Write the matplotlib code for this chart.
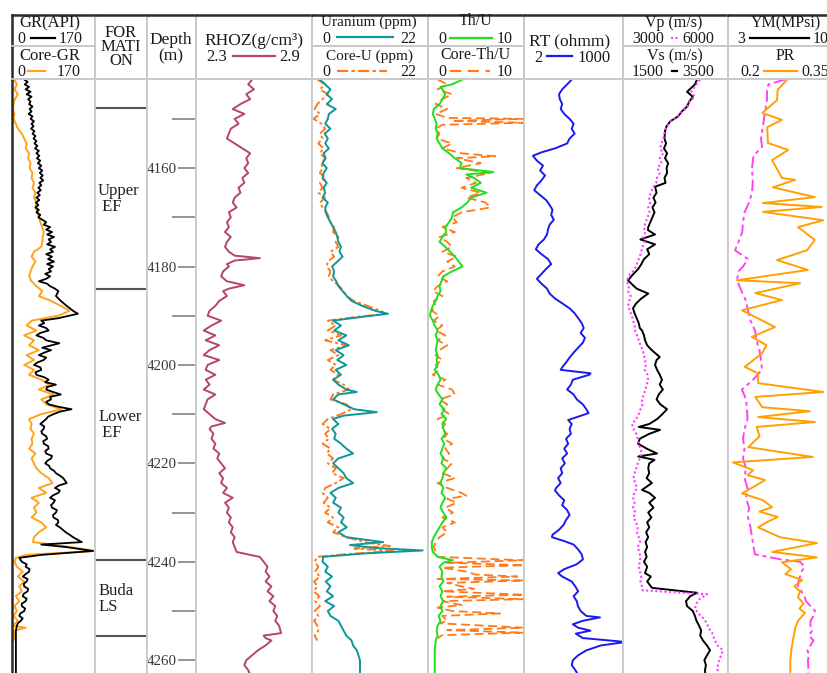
import matplotlib
matplotlib.use("Agg")
import matplotlib.pyplot as plt
from matplotlib.lines import Line2D
import numpy as np

plt.rcParams['font.family'] = ['Liberation Serif', 'DejaVu Serif']

# ---------------- data ----------------
depth_top, depth_bottom = 4141.9, 4262.6
depth_ticks_major = [4160, 4180, 4200, 4220, 4240, 4260]
depth_ticks_minor = [4150, 4170, 4190, 4210, 4230, 4250]

formation_names = ["Upper\n EF", "Lower\n EF", "Buda\nLS"]
formation_label_depths = [4166.3, 4212.2, 4247.6]
formation_boundaries = [4147.8, 4184.6, 4239.7, 4255.0]

GR = [(4142,25),(4142.5,32),(4143,26),(4143.5,35),(4144,28),(4144.5,38),(4145,30),(4145.5,40),(4146,33),
      (4146.5,38),(4147,35),(4147.5,42),(4148,36),(4148.5,40),(4149,34),(4149.5,42),(4150,38),(4150.5,45),
      (4151,40),(4151.5,44),(4152,39),(4152.5,46),(4153,42),(4153.5,48),(4154,44),(4154.5,50),(4155,46),
      (4155.5,52),(4156,47),(4156.5,55),(4157,50),(4157.5,56),(4158,51),(4158.5,58),(4159,53),(4159.5,60),
      (4160,55),(4160.5,62),(4161,57),(4161.5,63),(4162,58),(4162.5,64),(4163,56),(4163.5,60),(4164,54),
      (4164.5,59),(4165,52),(4165.5,57),(4166,50),(4166.5,56),(4167,49),(4167.5,54),(4168,48),(4168.5,55),
      (4169,50),(4169.5,58),(4170,54),(4170.5,62),(4171,70),(4171.5,65),(4172,78),(4172.5,70),(4173,82),
      (4173.5,72),(4174,86),(4174.5,75),(4175,80),(4175.5,72),(4176,88),(4176.5,78),(4177,84),(4177.5,70),
      (4178,82),(4178.5,74),(4179,86),(4179.5,72),(4180,84),(4180.5,75),(4181,80),(4181.5,68),(4182,78),
      (4182.5,70),(4183,55),(4183.5,72),(4184,78),(4184.5,88),(4185,95),(4186,90),(4187,100),(4188,112),
      (4189,125),(4189.6,135),(4190.5,95),(4191,60),(4191.5,66),(4192,55),(4192.5,70),(4193,75),(4193.5,58),
      (4194,50),(4194.5,64),(4195,70),(4195.6,97),(4196.5,62),(4197,80),(4197.5,66),(4198,55),(4198.5,70),
      (4199,65),(4199.5,52),(4200,45),(4200.5,58),(4201,60),(4201.5,48),(4202,50),(4202.5,66),(4203,75),
      (4203.5,68),(4204,90),(4204.5,72),(4205,70),(4205.5,84),(4206,100),(4206.5,78),(4207,80),(4207.5,70),
      (4208,75),(4208.5,95),(4209,122),(4209.5,98),(4210,85),(4210.5,74),(4211,70),(4212,58),(4212.5,66),
      (4213,65),(4213.5,60),(4214,62),(4214.5,70),(4215,72),(4215.5,64),(4216,65),(4216.5,74),(4217,75),
      (4217.5,68),(4218,70),(4218.5,82),(4219,80),(4219.5,72),(4220,68),(4220.5,76),(4221,78),(4221.5,86),
      (4222,90),(4222.5,98),(4223,105),(4224,112),(4224.5,96),(4225,88),(4225.5,98),(4226,95),(4226.5,84),
      (4227,78),(4227.5,88),(4228,85),(4228.5,80),(4229,82),(4229.5,92),(4230,90),(4230.5,84),(4231,85),
      (4231.5,94),(4232,95),(4232.5,90),(4233,98),(4233.5,104),(4234,110),(4234.5,118),(4235,125),(4236,143),
      (4236.5,60),(4237,110),(4237.8,166),(4238.6,60),(4239.2,15),(4240,20),(4240.5,30),(4241,28),(4241.5,36),
      (4242,35),(4242.5,28),(4243,22),(4243.5,32),(4244,30),(4244.5,24),(4245,25),(4245.5,33),(4246,32),
      (4246.5,24),(4247,22),(4247.5,30),(4248,28),(4248.5,20),(4249,20),(4249.5,27),(4250,25),(4250.5,17),
      (4251,15),(4251.5,22),(4252,18),(4252.5,12),(4253,10),(4254,8),(4256,8),(4263,8)]

CORE_GR = [(4142,4),(4143,10),(4144,5),(4145,12),(4146,6),(4147,3),(4148,2),(4149,5),(4150,3),(4151,8),
           (4152,12),(4153,20),(4154,25),(4155,30),(4156,28),(4157,35),(4158,33),(4159,38),(4160,36),(4161,42),
           (4162,40),(4163,45),(4164,42),(4165,48),(4166,45),(4167,50),(4168,48),(4169,52),(4170,55),(4171,58),
           (4172,62),(4173,65),(4174,63),(4175,62),(4176,60),(4177,45),(4178,40),(4179,48),(4180,42),(4181,38),
           (4182,35),(4183,40),(4184,50),(4185,62),(4186,55),(4187,80),(4188,100),(4189,118),(4190,95),(4191,40),
           (4192,30),(4193,50),(4194,25),(4195,45),(4196,35),(4197,55),(4198,30),(4199,45),(4200,25),(4201,45),
           (4202,35),(4203,60),(4204,77),(4205,55),(4206,85),(4207,60),(4208,70),(4209,101),(4210,60),(4211,35),
           (4212,40),(4213,38),(4214,45),(4215,40),(4216,42),(4217,35),(4218,48),(4219,40),(4220,45),(4221,50),
           (4222,60),(4223,75),(4224,83),(4225,55),(4226,70),(4227,40),(4228,55),(4229,45),(4230,50),(4231,40),
           (4232,60),(4233,70),(4234,55),(4235,45),(4236,43),(4237,120),(4237.8,170),(4238.6,30),(4239.2,8),(4240,5),
           (4241,10),(4242,22),(4243,12),(4244,25),(4245,15),(4246,20),(4247,8),(4248,15),(4249,5),(4250,10),
           (4251,3),(4252,12),(4253,2),(4253.4,28),(4254,5),(4255,5),(4256,3)]

RHOZ = [(4142,2.59),(4143,2.57),(4144,2.60),(4145,2.56),(4146,2.58),(4147,2.53),(4148,2.49),(4149,2.55),(4150,2.50),
        (4151,2.52),(4152,2.48),(4153,2.47),(4154,2.46),(4155,2.50),(4156,2.54),(4157,2.58),(4158,2.56),(4159,2.57),
        (4160,2.55),(4161,2.57),(4162,2.54),(4163,2.55),(4164,2.52),(4165,2.53),(4166,2.50),(4167,2.49),(4168,2.51),
        (4169,2.47),(4170,2.48),(4171,2.46),(4172,2.47),(4173,2.45),(4174,2.48),(4175,2.46),(4176,2.45),(4177,2.47),
        (4177.8,2.50),(4178.3,2.63),(4178.8,2.50),(4179.5,2.46),(4180,2.47),(4181,2.44),(4182,2.43),(4183,2.46),
        (4183.8,2.55),(4184.5,2.47),(4185,2.44),(4186,2.46),(4187,2.42),(4188,2.40),(4189,2.37),(4190,2.36),(4191,2.43),
        (4192,2.38),(4193,2.34),(4194,2.40),(4195,2.35),(4196,2.42),(4197,2.37),(4198,2.34),(4199,2.42),(4200,2.36),
        (4201,2.35),(4202,2.40),(4203,2.35),(4204,2.37),(4205,2.34),(4206,2.40),(4207,2.36),(4208,2.35),(4209,2.34),
        (4210,2.37),(4211,2.40),(4211.8,2.45),(4212.5,2.38),(4213,2.37),(4214,2.39),(4215,2.38),(4216,2.40),(4217,2.39),
        (4218,2.42),(4219,2.41),(4220,2.43),(4221,2.45),(4222,2.42),(4223,2.44),(4224,2.43),(4225,2.46),(4226,2.44),
        (4227,2.49),(4228,2.45),(4229,2.47),(4230,2.46),(4231,2.48),(4232,2.47),(4233,2.49),(4234,2.48),(4235,2.50),
        (4236,2.49),(4237,2.50),(4238,2.51),(4238.6,2.58),(4239,2.63),(4240,2.65),(4241,2.67),(4242,2.66),(4243,2.68),
        (4244,2.66),(4245,2.69),(4246,2.67),(4247,2.70),(4248,2.68),(4249,2.71),(4250,2.70),(4251,2.72),(4252,2.71),
        (4253,2.73),(4254.5,2.74),(4255,2.65),(4255.5,2.66),(4256,2.69),(4257,2.66),(4258,2.62),(4259,2.59),
        (4260,2.56),(4261,2.55),(4262,2.57),(4263,2.58)]

URANIUM = [(4142,1.5),(4143,2.5),(4144,3.5),(4145,2.8),(4146,3.8),(4147,2.8),(4148,4.5),(4149,3.2),(4150,3.0),
           (4151,2.5),(4152,3.5),(4153,2.4),(4154,3.0),(4155,2.5),(4156,3.2),(4157,2.2),(4158,2.6),(4159,2.0),
           (4160,2.8),(4161,2.2),(4162,2.0),(4163,2.8),(4164,2.2),(4165,2.5),(4166,2.0),(4167,3.0),(4168,2.5),
           (4169,2.6),(4170,3.0),(4171,3.5),(4172,4.0),(4173,4.5),(4174,4.8),(4175,5.0),(4176,5.5),(4177,5.2),
           (4178,5.8),(4179,4.8),(4180,3.8),(4181,4.2),(4182,4.0),(4183,4.6),(4184,5.0),(4185,5.8),(4186,6.6),
           (4187,7.5),(4188,9.5),(4189,12.0),(4189.6,14.4),(4190.3,9.0),(4191,4.0),(4192,5.5),(4193,4.2),(4194,6.5),
           (4195,5.0),(4196,7.0),(4197,4.5),(4198,6.0),(4199,4.8),(4200,6.5),(4201,4.5),(4202,5.5),(4203,4.0),
           (4204,5.0),(4205,6.5),(4205.5,8.5),(4206,5.0),(4207,4.0),(4208,6.0),(4209,8.0),(4209.6,12.3),(4210.3,6.0),
           (4211,4.0),(4212,5.0),(4213,3.8),(4214,4.5),(4215,4.2),(4216,5.5),(4217,6.5),(4218,7.8),(4219,5.0),
           (4220,4.0),(4221,5.0),(4222,6.0),(4223,6.5),(4224,7.8),(4225,5.0),(4226,3.5),(4227,4.5),(4228,4.0),
           (4229,5.5),(4230,5.0),(4231,6.0),(4232,5.5),(4233,6.6),(4234,5.0),(4235,6.5),(4236,13.5),(4236.6,7.2),
           (4237.2,12.0),(4237.7,21.0),(4238.3,10.0),(4239,2.1),(4240,2.0),(4241,3.0),(4242,2.5),(4243,3.8),
           (4244,2.6),(4245,3.5),(4246,2.8),(4247,4.0),(4248,2.5),(4249,4.2),(4250,3.0),(4251,3.5),(4252,5.0),
           (4253,5.5),(4254,6.0),(4255,6.5),(4256,7.5),(4257,7.8),(4258,8.5),(4259,8.8),(4260,9.1),(4263,9.1)]

CORE_U = [(4142,1.0),(4143,2.5),(4144,1.5),(4145,3.0),(4146,2.0),(4147,1.0),(4148,0.5),(4149,1.5),(4150,0.3),
          (4151,1.8),(4152,2.5),(4153,1.5),(4154,2.0),(4155,1.2),(4156,2.2),(4157,1.5),(4158,2.5),(4159,1.8),
          (4160,2.0),(4161,1.5),(4162,2.6),(4163,1.5),(4164,2.0),(4165,1.2),(4166,2.5),(4167,1.5),(4168,2.0),
          (4169,2.8),(4170,3.2),(4171,3.5),(4172,4.2),(4173,4.0),(4174,5.0),(4175,4.5),(4176,5.0),(4177,3.5),
          (4178,4.2),(4179,3.0),(4180,2.8),(4181,3.5),(4182,3.2),(4183,4.0),(4184,5.2),(4185,6.0),(4186,6.5),
          (4187,8.0),(4188,10.5),(4189,13.0),(4189.6,14.0),(4190.3,8.0),(4191,3.0),(4192,4.5),(4193,3.0),(4194,5.5),
          (4195,2.5),(4196,6.5),(4197,3.5),(4198,5.0),(4199,3.0),(4200,4.5),(4201,3.5),(4202,5.0),(4203,4.0),
          (4204,6.0),(4205,7.0),(4206,4.0),(4207,3.5),(4208,6.5),(4209,7.5),(4210,5.5),(4211,3.0),(4212,2.0),
          (4213,3.5),(4214,2.5),(4215,3.2),(4216,2.0),(4217,3.5),(4218,2.8),(4219,4.0),(4220,3.0),(4221,4.5),
          (4222,3.8),(4223,6.0),(4224,4.5),(4225,2.5),(4226,2.0),(4227,3.0),(4228,2.2),(4229,3.5),(4230,2.5),
          (4231,4.0),(4232,3.0),(4233,5.0),(4234,4.0),(4235,6.5),(4236,10.0),(4236.8,14.8),(4237.3,8.0),
          (4237.8,15.4),(4238.5,6.0),(4239,1.0),(4240,0.5),(4241,1.2),(4242,0.6),(4243,1.5),(4244,0.4),(4245,1.0),
          (4246,0.3),(4247,1.4),(4248,0.6),(4249,1.5),(4250,0.5),(4251,1.2),(4252,0.4),(4253,1.0),(4254,1.2),
          (4255,0.5),(4256,1.0)]

TH_U = [(4142,3.6),(4143,2.5),(4143.5,1.3),(4144,1.5),(4145,1.8),(4146,1.5),(4147,1.2),(4148,0.6),(4149,0.5),
        (4150,0.7),(4151,0.9),(4152,0.8),(4153,1.0),(4154,0.9),(4155,1.2),(4156,1.5),(4157,2.2),(4158,2.8),
        (4159,3.5),(4160,3.3),(4160.8,6.8),(4161.3,4.0),(4162,4.8),(4163,5.5),(4164,4.5),(4165,6.1),(4166,4.5),
        (4167,4.1),(4168,3.5),(4169,2.6),(4170,2.5),(4171,2.2),(4172,1.8),(4173,1.9),(4174,1.5),(4175,1.2),
        (4176,1.8),(4177,2.3),(4178,2.8),(4179,3.2),(4180,3.6),(4181,2.5),(4182,1.6),(4183,1.4),(4184,1.2),
        (4185,1.3),(4186,1.0),(4187,0.8),(4188,0.5),(4189,0.3),(4190,0.2),(4191,0.5),(4192,0.7),(4193,1.0),
        (4194,0.8),(4195,1.0),(4196,0.9),(4197,0.8),(4198,1.0),(4199,0.9),(4200,1.0),(4201,0.7),(4202,1.1),
        (4203,1.3),(4204,1.0),(4205,0.8),(4206,1.1),(4207,1.5),(4208,1.2),(4209,1.7),(4210,1.4),(4211,1.9),
        (4212,1.5),(4213,1.6),(4214,1.8),(4215,1.4),(4216,1.7),(4217,1.5),(4218,1.3),(4219,1.6),(4220,1.4),
        (4221,1.9),(4222,1.6),(4223,1.5),(4224,1.3),(4225,1.6),(4226,1.4),(4227,1.8),(4228,1.5),(4229,1.3),
        (4230,1.6),(4231,1.9),(4232,1.5),(4233,1.2),(4234,0.9),(4235,0.6),(4236,0.4),(4237,0.4),(4238,0.5),
        (4239,1.0),(4239.7,2.6),(4240.2,1.6),(4241,1.2),(4242,1.5),(4243,1.4),(4244,1.6),(4245,1.2),(4246,1.5),
        (4247,1.3),(4248,1.6),(4249,1.3),(4250,1.5),(4251,1.1),(4252,1.3),(4253,1.0),(4254,0.9),(4255,1.0),
        (4256,0.8),(4258,0.7),(4260,0.7),(4263,0.7)]

CORE_TH_U = [(4142,1.0),(4143,2.0),(4144,1.0),(4145,2.5),(4146,1.5),(4147,0.8),(4148,2.0),(4149,0.8),(4149.8,2.0),
             (4150.0,10.0),(4150.4,2.5),(4150.8,10.0),(4151.2,1.5),(4152,0.8),(4153,1.2),(4154,0.9),(4155,2.5),
             (4156,1.5),(4157,3.5),(4157.6,7.0),(4158,3.0),(4159,5.5),(4160,3.0),(4161,6.5),(4162,4.0),(4163,5.0),
             (4164,3.5),(4165,5.5),(4166,4.0),(4167,6.0),(4168,6.5),(4169,3.5),(4170,2.5),(4171,3.0),(4172,1.5),
             (4173,2.8),(4174,1.2),(4175,2.0),(4176,2.5),(4177,1.5),(4178,3.0),(4179,2.0),(4180,2.8),(4181,1.5),
             (4182,1.0),(4183,2.0),(4184,1.0),(4185,0.5),(4186,1.5),(4187,0.6),(4188,0.8),(4189,0.4),(4190,1.2),
             (4191,0.6),(4192,1.5),(4193,0.8),(4194,1.8),(4195,1.0),(4196,2.0),(4197,1.2),(4198,0.8),(4199,1.5),
             (4200,0.8),(4201,1.2),(4202,0.5),(4203,1.8),(4204,1.0),(4205,2.5),(4206,2.8),(4207,1.2),(4208,2.0),
             (4209,1.5),(4210,2.2),(4211,1.0),(4212,1.8),(4213,1.4),(4214,2.0),(4215,1.6),(4216,2.5),(4217,1.8),
             (4218,2.2),(4219,1.5),(4220,2.5),(4221,2.0),(4222,1.5),(4223,2.8),(4224,1.0),(4225,2.0),(4226,3.5),
             (4226.6,4.0),(4227.2,2.0),(4228,3.0),(4229,1.8),(4230,2.6),(4231,1.5),(4232,2.8),(4233,1.5),(4234,2.0),
             (4235,1.2),(4236,0.8),(4237,0.6),(4238,0.8),(4239,1.0),(4239.7,10.0),(4240.2,2.0),(4240.7,10.0),
             (4241.2,1.5),(4242,4.0),(4242.6,5.0),(4243.0,9.3),(4243.5,1.0),(4243.8,10.0),(4244.3,2.0),(4245,3.5),
             (4245.5,4.8),(4246,1.5),(4246.7,10.0),(4247.1,2.0),(4247.6,10.0),(4248.0,1.5),(4248.8,3.5),(4249.3,1.0),
             (4250,2.5),(4250.5,7.5),(4251,1.5),(4252,2.0),(4252.5,1.2),(4253.4,10.0),(4253.9,2.0),(4254.4,10.0),
             (4254.9,1.5),(4255.5,1.0)]

RT = [(4142,40),(4143,30),(4144,22),(4145,18),(4146,19),(4147,22),(4148,20),(4149,25),(4150,35),(4151,45),
      (4152,40),(4153,48),(4154,35),(4155,30),(4156,14),(4156.8,6),(4157.5,3.5),(4158.5,4.5),(4159.5,6.6),
      (4160.5,5.5),(4161.5,7.5),(4162.5,6),(4163.5,4.5),(4164.5,3.8),(4165.5,5.5),(4166.5,8),(4167.5,10),
      (4168.5,12),(4169.5,11),(4170.5,13),(4171.5,10),(4172.5,9),(4173.5,8.5),(4174.5,7),(4175.5,5),(4176.5,4.2),
      (4177.5,6),(4178.5,9),(4179.5,11),(4180.5,8),(4181.5,6),(4182.5,4.5),(4183.5,6),(4184.5,8.5),(4185.5,10),
      (4186.5,14),(4187.5,22),(4188.5,35),(4189.5,48),(4190.5,60),(4191.5,75),(4192.5,85),(4193.5,70),(4194.5,92),
      (4195.5,80),(4196.5,60),(4197.5,45),(4198.5,35),(4199.5,28),(4200.5,22),(4201,20),(4201.7,130),(4202,120),
      (4203,43),(4204,38),(4205,30),(4206,45),(4207,55),(4208,80),(4209,100),(4209.8,115),(4210.5,60),(4211.2,32),
      (4212,40),(4213,35),(4214,38),(4215,28),(4216,32),(4217,25),(4218,30),(4219,22),(4220,26),(4221,20),
      (4222,22),(4223,17),(4224,20),(4225,15),(4225.5,14),(4226.5,18),(4227.5,25),(4228.5,22),(4229.5,30),
      (4230.5,35),(4231.5,28),(4232.5,24),(4233.5,18),(4234.5,12),(4235,11.6),(4235.8,25),(4236.5,45),(4237.5,60),
      (4238.5,75),(4239.5,81),(4240.5,55),(4241.5,25),(4242.3,17),(4243,22),(4244,40),(4245,50),(4246,60),
      (4247,45),(4248,55),(4249,59),(4250,70),(4251,100),(4251.3,236),(4252,80),(4252.7,43),(4253.4,60),
      (4254,130),(4254.6,52),(4255.5,80),(4256.3,1200),(4257,250),(4258,100),(4259,60),(4260,43),(4261,40),
      (4262,50),(4263,60)]

VS = [(4142,2910),(4143,2870),(4144.5,2720),(4145.5,2830),(4146.5,2760),(4147.5,2720),(4148.5,2620),(4149.5,2550),
      (4150.5,2400),(4151.5,2330),(4152.5,2300),(4154,2290),(4155,2320),(4156,2280),(4157,2340),(4158,2300),
      (4159,2360),(4160,2330),(4161,2340),(4162,2290),(4163,2310),(4163.8,2110),(4165,2140),(4166,2080),(4167,2120),
      (4168,2060),(4169,2100),(4170,2060),(4171,2020),(4172,1980),(4172.6,1976),(4173.5,2110),(4174.5,1830),
      (4175.5,2110),(4176.5,1960),(4177.5,2000),(4178.5,1900),(4179.5,1850),(4180.5,1790),(4181.5,1700),
      (4182.8,1595),(4183.8,1690),(4184.5,1760),(4185.5,1980),(4186.5,1850),(4187.5,1750),(4188.5,1690),
      (4189.5,1720),(4190.5,1760),(4191.5,1800),(4192.5,1820),(4193,1862),(4194,1900),(4195,1920),(4196,1960),
      (4197,2050),(4198.4,2200),(4199,2140),(4200,2110),(4201,2150),(4202,2200),(4203,2243),(4204,2200),(4205,2260),
      (4206,2180),(4207,2140),(4208,2210),(4209,2338),(4210,2250),(4211,2150),(4212,2000),(4212.6,1800),
      (4213.2,2205),(4214,2000),(4215,1820),(4216,1786),(4217,1950),(4218,2148),(4218.6,1790),(4219.3,2100),
      (4220,2000),(4221,1980),(4222,2000),(4223,1950),(4224,2050),(4225.4,1862),(4226,2000),(4227,2110),(4228,2000),
      (4229,2080),(4230,1980),(4231,2040),(4232,1960),(4233,2000),(4234,1940),(4235,1980),(4236,1930),(4237,1960),
      (4238,1920),(4239,1950),(4240,1900),(4241,1960),(4242.3,1919),(4243,2030),(4244,1960),(4245.3,2052),
      (4246.3,2910),(4247,2780),(4248,2700),(4249,2719),(4250,2830),(4251,2870),(4252,2900),(4253,2950),(4254,2990),
      (4255,2970),(4256,3024),(4257,3100),(4258,3157),(4259,3100),(4260,3050),(4261,3080),(4262,3062),(4263,3070)]

VP = [(4142,5200),(4143,5100),(4144.5,4950),(4145.5,5050),(4146.5,4900),(4147.5,4850),(4148.5,4700),(4149.5,4550),
      (4150.5,4350),(4151.5,4250),(4152.5,4200),(4154,4150),(4155,4100),(4156,4060),(4157,4150),(4158,4050),
      (4159,4100),(4160,3980),(4161,4050),(4162,3970),(4163,3950),(4164,3850),(4165,3800),(4166,3740),(4167,3780),
      (4168,3720),(4169,3760),(4170,3700),(4171,3650),(4172,3600),(4173,3640),(4174,3580),(4175,3620),(4176,3560),
      (4177,3520),(4178,3480),(4179,3420),(4180,3380),(4181,3280),(4182,3150),(4183,3114),(4184,3170),(4185,3143),
      (4186,3220),(4187,3180),(4188,3143),(4189,3200),(4190,3250),(4191,3290),(4192,3330),(4193,3343),(4194,3400),
      (4195,3450),(4196,3500),(4197,3560),(4198,3600),(4199,3629),(4200,3650),(4201,3620),(4202,3700),(4203,3714),
      (4204,3680),(4205,3640),(4206,3600),(4207,3540),(4208,3560),(4209,3500),(4210,3450),(4211,3380),(4212,3257),
      (4213,3300),(4214,3380),(4215,3420),(4216,3450),(4217,3500),(4218,3543),(4219,3480),(4220,3420),(4221,3380),
      (4222,3330),(4223,3300),(4224,3350),(4225,3400),(4226,3320),(4227,3290),(4228,3330),(4229,3286),(4230,3350),
      (4231,3300),(4232,3380),(4233,3420),(4234,3400),(4235,3450),(4236,3486),(4237,3420),(4238,3460),(4239,3500),
      (4240,3480),(4241,3450),(4242,3486),(4243,3520),(4244,3500),(4245,3543),(4245.8,3560),(4246.6,5400),
      (4247.5,5200),(4248.5,5100),(4249.5,5057),(4250.5,5150),(4251.5,5300),(4252.5,5400),(4253.5,5450),
      (4254.5,5550),(4255.5,5600),(4256,5629),(4257,5700),(4258,5857),(4259,5800),(4260,5750),(4261,5714),
      (4262,5700),(4263,5714)]

YM = [(4142,6.8),(4143,5.7),(4144,5.6),(4146,5.6),(4148,5.5),(4150,5.4),(4152,5.3),(4154,5.2),(4155.7,5.27),
      (4157.5,4.7),(4160,4.6),(4163,4.65),(4165,4.6),(4167,4.4),(4169,4.1),(4171,4.0),(4173,3.95),(4175,3.7),
      (4176.7,3.47),(4178.5,4.33),(4180,4.0),(4181,3.7),(4182.8,3.6),(4185,3.9),(4187,4.2),(4188.9,4.33),
      (4191,4.5),(4193,4.8),(4195,4.9),(4197,5.1),(4199,5.2),(4201,5.27),(4203,4.67),(4205,3.93),(4207,4.2),
      (4209,4.27),(4211,4.3),(4213,4.1),(4215,4.0),(4217,4.1),(4219,4.0),(4221,4.2),(4223,4.1),(4225,4.3),
      (4227,4.2),(4229,4.4),(4231,4.33),(4233,4.5),(4235,4.6),(4237,4.7),(4238.5,4.8),(4239.5,6.5),(4240,7.8),
      (4241,8.1),(4242,7.9),(4243,7.8),(4244,7.7),(4245,7.67),(4246,7.9),(4247,8.1),(4248,8.2),(4249,8.5),
      (4250,8.8),(4251,8.7),(4252,8.5),(4253,8.5),(4254,8.6),(4255,8.4),(4256,8.7),(4257,8.5),(4258,8.3),
      (4259,8.4),(4260,8.33),(4261,8.35),(4263,8.35)]

PR = [(4142.1,0.284),(4144.1,0.271),(4146.2,0.270),(4148.8,0.249),(4150.2,0.277),(4151.7,0.256),(4154.9,0.257),
      (4156.3,0.286),(4158.4,0.263),(4162.0,0.277),(4162.4,0.296),(4163.9,0.264),(4165.9,0.324),(4167.1,0.250),
      (4167.9,0.334),(4168.9,0.250),(4170.6,0.336),(4172.0,0.300),(4174.6,0.324),(4176.7,0.313),(4178.7,0.270),
      (4180.7,0.314),(4182.8,0.213),(4183.4,0.303),(4185.4,0.239),(4186.8,0.277),(4188.9,0.220),(4192.3,0.267),
      (4194.3,0.234),(4196.0,0.255),(4197.6,0.249),(4200.4,0.224),(4201.7,0.243),(4203.7,0.243),(4205.5,0.336),
      (4206.5,0.239),(4208.6,0.249),(4209.4,0.317),(4210.6,0.243),(4211.6,0.324),(4212.6,0.241),(4214.5,0.245),
      (4216.7,0.229),(4218.7,0.321),(4219.8,0.207),(4221.4,0.236),(4222.4,0.228),(4223.4,0.253),(4224.5,0.240),
      (4226.1,0.220),(4227.5,0.250),(4228.9,0.263),(4229.8,0.245),(4230.9,0.271),(4232.0,0.255),(4233.0,0.243),
      (4235.0,0.274),(4236.2,0.327),(4238.0,0.263),(4239.1,0.327),(4240.1,0.277),(4241.5,0.290),(4242.5,0.282),
      (4243.7,0.306),(4245.0,0.295),(4246.0,0.303),(4247.2,0.300),(4248.5,0.308),(4249.5,0.302),(4250.4,0.310),
      (4252.0,0.300),(4253.5,0.296),(4255.0,0.294),(4257.4,0.291),(4260.0,0.289),(4263.0,0.289)]

# ---------------- layout ----------------
W, H = 828, 673
TRACK_X = [12, 95, 147, 196, 312, 428, 524, 623, 728, 833]
Y_TOP, Y_MID, Y_HDR, Y_BOT = 15, 46, 79, 673
GRID = '#c9c9c9'
FRAME = '#2a2a2a'

fig = plt.figure(figsize=(W / 100, H / 100), dpi=100)


def px_axes(x0, y0, x1, y1, **kw):
    return fig.add_axes([x0 / W, 1 - y1 / H, (x1 - x0) / W, (y1 - y0) / H], **kw)


def xy(a):
    arr = np.array(a, dtype=float)
    return arr[:, 1], arr[:, 0]


tracks = []
for i in range(9):
    ax = px_axes(TRACK_X[i], Y_HDR, TRACK_X[i + 1], Y_BOT)
    ax.set_ylim(depth_bottom, depth_top)
    for s in ['left', 'right', 'top']:
        ax.spines[s].set_color(GRID)
        ax.spines[s].set_linewidth(1.3)
    ax.spines['bottom'].set_visible(False)
    if i == 0:
        ax.spines['left'].set_color(FRAME)
        ax.spines['left'].set_linewidth(1.8)
    tracks.append(ax)


def overlay(ax):
    o = fig.add_axes(ax.get_position(), frameon=False)
    o.set_ylim(depth_bottom, depth_top)
    o.set_xticks([])
    o.set_yticks([])
    return o


LW = 1.4
# GR track
ax = tracks[0]
ax.set_xlim(0, 170)
ax.plot(*xy(CORE_GR), color='#ffa31a', lw=LW)
ax.plot(*xy(GR), color='black', lw=1.3)

# Formation track
ax = tracks[1]
ax.set_xlim(0, 1)
for d in formation_boundaries:
    ax.axhline(d, color='#555555', lw=1.5)
for name, d in zip(formation_names, formation_label_depths):
    ax.text(0.06, d, name, ha='left', va='center', fontsize=12, color='#222222', linespacing=1.0)

# RHOZ
ax = tracks[3]
ax.set_xlim(2.3, 2.9)
ax.plot(*xy(RHOZ), color='#b5446e', lw=LW)

# Uranium
ax = tracks[4]
ax.set_xlim(0, 22)
ax.plot(*xy(CORE_U), color='#ff7a1a', lw=LW, linestyle=(0, (5, 1.5, 1.5, 1.5)))
ax.plot(*xy(URANIUM), color='#0f9696', lw=LW)

# Th/U
ax = tracks[5]
ax.set_xlim(0, 10)
ax.plot(*xy(CORE_TH_U), color='#ff7a1a', lw=1.3, linestyle=(0, (5, 2.5)))
ax.plot(*xy(TH_U), color='#1ee01e', lw=LW)

# RT (log scale)
ax = tracks[6]
ax.set_xscale('log')
ax.set_xlim(2, 1000)
ax.plot(*xy(RT), color='#1a1aee', lw=LW, clip_on=False)

# Vp / Vs
ax = tracks[7]
ax.set_xlim(1500, 3500)
o = overlay(ax)
o.set_xlim(3000, 6000)
o.plot(*xy(VP), color='#ff3cff', lw=1.5, linestyle=(0, (1, 1.2)))
ax.plot(*xy(VS), color='black', lw=LW)

# YM / PR
ax = tracks[8]
ax.set_xlim(3, 10)
ax.plot(*xy(YM), color='#ff44ee', lw=LW, linestyle=(0, (6, 2, 2, 2)))
o = overlay(ax)
o.set_xlim(0.2, 0.35)
o.plot(*xy(PR), color='#ffa000', lw=LW)

# remove all ticks on tracks except the depth scale
for i, ax in enumerate(tracks):
    ax.set_xticks([])
    ax.set_xticks([], minor=True)
    if i != 2:
        ax.set_yticks([])
        ax.set_yticks([], minor=True)

# Depth track ticks
ax = tracks[2]
ax.set_yticks(depth_ticks_major)
ax.set_yticks(depth_ticks_minor, minor=True)
ax.tick_params(axis='y', which='both', left=False, right=True, direction='in', color='#8c8c8c', width=1.3,
               labelleft=False)
ax.tick_params(axis='y', which='major', length=13, labelright=True, pad=-13.8, labelsize=10.8,
               labelcolor='#3a3a3a')
ax.tick_params(axis='y', which='minor', length=17.3, labelright=False)
for lab in ax.get_yticklabels():
    lab.set_horizontalalignment('right')

# ---------------- header ----------------
two_row = {0, 4, 5, 7, 8}
for i in range(9):
    rows = [(Y_TOP, Y_MID), (Y_MID, Y_HDR)] if i in two_row else [(Y_TOP, Y_HDR)]
    for r, (y0, y1) in enumerate(rows):
        hax = px_axes(TRACK_X[i], y0, TRACK_X[i + 1], y1)
        hax.patch.set_alpha(0)
        hax.set_xticks([])
        hax.set_yticks([])
        for s in hax.spines.values():
            s.set_color(GRID)
            s.set_linewidth(1.3)
        if r == 0:
            hax.spines['top'].set_color(FRAME)
            hax.spines['top'].set_linewidth(1.8)
        if i == 0:
            hax.spines['left'].set_color(FRAME)
            hax.spines['left'].set_linewidth(1.8)


def htext(x, y, s, size=11.5, **kw):
    fig.text(x / W, 1 - y / H, s, ha='center', va='center', fontsize=size, color='#1a1a1a', **kw)


def hline(x0, x1, y, **kw):
    fig.add_artist(Line2D([x0 / W, x1 / W], [1 - y / H, 1 - y / H], transform=fig.transFigure, **kw))


# GR
htext(50, 23, 'GR(API)', size=12)
htext(21, 39, '0'); htext(71, 39, '170'); hline(31, 55, 38, color='black', lw=1.6)
htext(50, 56, 'Core-GR', size=12)
htext(21, 72, '0'); htext(69, 72, '170'); hline(28, 45, 71, color='#ffa31a', lw=1.6)
# Formation / Depth
htext(121, 47, 'FOR\nMATI\nON', size=12, linespacing=0.85)
htext(171, 48, 'Depth\n(m)', size=12.5, linespacing=1.05)
# RHOZ
htext(254, 41, 'RHOZ(g/cm³)', size=12.5)
htext(217, 57, '2.3', size=12); htext(290, 57, '2.9', size=12); hline(233, 275, 56, color='#b5446e', lw=1.6)
# Uranium
htext(369, 22, 'Uranium (ppm)', size=11)
htext(326, 39, '0'); htext(408, 39, '22'); hline(337, 393, 37, color='#0f9696', lw=1.6)
htext(370, 56, 'Core-U (ppm)', size=11)
htext(326, 72, '0'); htext(408, 72, '22')
hline(337, 387, 71, color='#ff7a1a', lw=1.6, linestyle=(0, (5, 1.5, 1.5, 1.5)))
# Th/U
htext(476, 21, 'Th/U')
htext(442, 39, '0'); htext(505, 39, '10'); hline(450, 492, 38, color='#1ee01e', lw=1.6)
htext(475, 55, 'Core-Th/U')
htext(442, 72, '0'); htext(505, 72, '10'); hline(450, 490, 71, color='#ff7a1a', lw=1.6, linestyle=(0, (5, 3)))
# RT
htext(570, 41, 'RT (ohmm)', size=12.5)
htext(538, 58, '2', size=12); htext(594, 58, '1000', size=12); hline(547, 572, 56, color='#1a1aee', lw=1.6)
# Vp / Vs
htext(674, 23, 'Vp (m/s)')
htext(648, 39, '3000'); htext(698, 39, '6000'); hline(671, 678, 38, color='#ff3cff', lw=1.5, linestyle=(0, (1, 1.2)))
htext(675, 56, 'Vs (m/s)')
htext(648, 72, '1500'); htext(698, 72, '3500'); hline(672, 677, 71, color='black', lw=1.6)
# YM / PR
htext(786, 23, 'YM(MPsi)')
htext(741, 39, '3'); htext(821, 39, '10'); hline(750, 809, 38, color='black', lw=1.6)
htext(785, 56, 'PR')
htext(750, 72, '0.2'); htext(815, 72, '0.35'); hline(764, 797, 71, color='#ffa000', lw=1.6)

fig.savefig('out.png', dpi=100)
